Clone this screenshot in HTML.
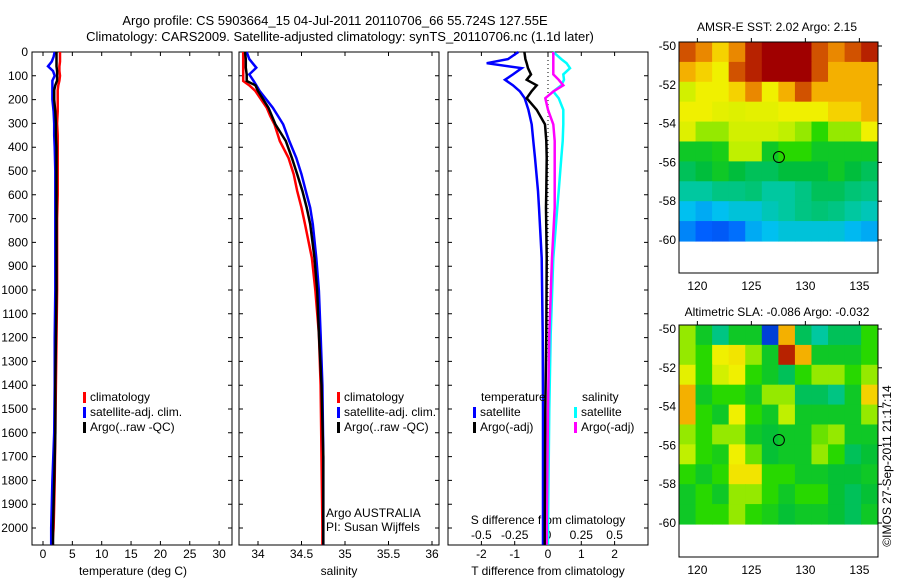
<!DOCTYPE html>
<html><head><meta charset="utf-8"><style>
html,body{margin:0;padding:0;background:#fff;}
svg{display:block;font-family:"Liberation Sans",sans-serif;}
</style></head><body>
<svg id="fig" width="900" height="580" viewBox="0 0 900 580" xmlns="http://www.w3.org/2000/svg">
<text x="335" y="25" font-size="13" text-anchor="middle">Argo profile: CS 5903664_15 04-Jul-2011 20110706_66 55.724S 127.55E</text>
<text x="340" y="41" font-size="13" text-anchor="middle">Climatology: CARS2009. Satellite-adjusted climatology: synTS_20110706.nc (1.1d later)</text>
<text x="777" y="31" font-size="12" text-anchor="middle">AMSR-E SST: 2.02 Argo: 2.15</text>
<text x="777" y="316" font-size="12" text-anchor="middle">Altimetric SLA: -0.086 Argo: -0.032</text>
<text x="0" y="0" font-size="12" text-anchor="middle" transform="translate(891,466) rotate(-90)">©IMOS 27-Sep-2011 21:17:14</text>
<g id="layer"></g>
</svg>
<script>
// ---- profile data ----
const depths = [0,20,40,60,80,100,120,140,160,200,250,300,350,400,500,600,700,800,1000,1200,1400,1600,1800,1900,2000,2070];
const climT = [2.9,2.9,2.9,2.8,2.8,2.9,2.8,2.6,2.5,2.5,2.5,2.4,2.5,2.5,2.5,2.5,2.4,2.4,2.4,2.3,2.2,2.1,2.0,1.9,1.8,1.6];
const satT  = [2.0,1.8,1.5,0.85,1.7,2.0,1.6,1.6,1.6,1.6,1.8,1.9,1.9,2.0,2.1,2.1,2.1,2.1,2.1,2.0,2.0,1.9,1.6,1.5,1.4,1.4];
const argoT = [2.3,2.3,2.3,2.3,2.4,2.4,2.4,2.1,1.9,1.9,2.1,2.2,2.2,2.3,2.3,2.3,2.3,2.3,2.3,2.2,2.1,2.1,1.9,1.8,1.7,1.7];
const depthsS = [0,30,66,94,122,140,164,234,269,304,374,445,514,584,654,723,866,1004,1185,1400,1700,2000,2070];
const climS = [33.83,33.83,33.83,33.83,33.83,33.9,33.97,34.1,34.14,34.19,34.25,34.35,34.41,34.45,34.5,34.54,34.62,34.66,34.7,34.72,34.73,34.74,34.74];
const satS  = [33.87,33.9,33.98,33.9,33.95,33.98,34.02,34.17,34.23,34.29,34.36,34.44,34.5,34.55,34.6,34.63,34.67,34.7,34.72,34.74,34.75,34.75,34.75];
const argoS = [33.85,33.86,33.86,33.87,33.87,33.97,34.0,34.12,34.16,34.2,34.32,34.39,34.45,34.51,34.56,34.6,34.65,34.68,34.7,34.73,34.75,34.75,34.75];
const depthsD = [0,30,47,68,94,117,140,166,194,243,304,374,445,584,654,866,1185,1500,2000,2070];
const dTsat  = [-0.89,-1.2,-1.84,-0.79,-1.05,-1.29,-1.05,-0.84,-0.7,-0.59,-0.49,-0.44,-0.39,-0.3,-0.27,-0.19,-0.16,-0.15,-0.15,-0.15];
const dTargo = [-0.71,-0.68,-0.64,-0.6,-0.51,-0.64,-0.34,-0.5,-0.64,-0.34,-0.09,-0.05,-0.04,-0.05,-0.06,-0.04,-0.05,-0.08,-0.1,-0.1];
const dSsat  = [0.04,0.1,0.14,0.165,0.115,0.12,0.1,0.04,0.08,0.115,0.115,0.11,0.1,0.08,0.07,0.04,0.02,0.01,0.0,0.0];
const dSargo = [0.04,0.04,0.04,0.04,0.04,0.08,0.115,0.04,-0.02,0.0,0.04,0.05,0.05,0.05,0.05,0.03,0.01,0.0,-0.01,-0.01];
const depthTicks = [0,100,200,300,400,500,600,700,800,900,1000,1100,1200,1300,1400,1500,1600,1700,1800,1900,2000];
const tempTicks = [0,5,10,15,20,25,30];
const salTicks = [34,34.5,35,35.5,36];
const tdiffTicks = [-2,-1,0,1,2];
const sdiffTicks = [-0.5,-0.25,0,0.25,0.5];
const lonTicks = [120,125,130,135];
const latTicks = [50,52,54,56,58,60];
// ---- map data (colour index 0..1), rows 50S..60S, cols 118.3E..136.7E ----
const sstGrid = [
[0.9,0.85,0.75,0.85,0.95,1,1,1,0.9,0.85,0.9,0.95],
[0.8,0.75,0.7,0.9,0.95,1,1,1,0.9,0.8,0.8,0.8],
[0.65,0.7,0.7,0.75,0.85,0.7,0.8,0.9,0.8,0.8,0.8,0.8],
[0.7,0.7,0.68,0.67,0.68,0.68,0.7,0.7,0.7,0.75,0.75,0.8],
[0.67,0.6,0.6,0.65,0.65,0.65,0.62,0.6,0.55,0.6,0.6,0.7],
[0.5,0.5,0.52,0.62,0.62,0.5,0.55,0.55,0.5,0.5,0.5,0.5],
[0.45,0.47,0.5,0.47,0.45,0.45,0.47,0.47,0.47,0.5,0.47,0.45],
[0.4,0.4,0.42,0.42,0.43,0.4,0.4,0.42,0.45,0.45,0.43,0.42],
[0.33,0.3,0.33,0.35,0.35,0.38,0.4,0.42,0.43,0.42,0.4,0.38],
[0.25,0.2,0.18,0.22,0.3,0.33,0.35,0.35,0.35,0.35,0.32,0.3]];
const slaGrid = [
[0.6,0.5,0.42,0.5,0.5,0.1,0.8,0.45,0.4,0.45,0.45,0.55],
[0.6,0.55,0.7,0.72,0.6,0.5,0.95,0.8,0.5,0.5,0.5,0.55],
[0.68,0.55,0.65,0.7,0.55,0.5,0.45,0.55,0.6,0.6,0.55,0.6],
[0.8,0.5,0.55,0.55,0.5,0.6,0.6,0.45,0.45,0.42,0.5,0.75],
[0.8,0.55,0.5,0.7,0.55,0.5,0.62,0.5,0.5,0.5,0.5,0.6],
[0.6,0.55,0.6,0.6,0.5,0.48,0.5,0.5,0.58,0.6,0.5,0.5],
[0.62,0.55,0.52,0.7,0.58,0.48,0.5,0.5,0.6,0.55,0.45,0.48],
[0.55,0.5,0.55,0.72,0.72,0.55,0.55,0.5,0.5,0.48,0.48,0.5],
[0.5,0.55,0.5,0.6,0.6,0.55,0.5,0.55,0.55,0.48,0.45,0.48],
[0.5,0.55,0.55,0.6,0.55,0.52,0.48,0.5,0.5,0.48,0.45,0.5]];
const argoLon = 127.55, argoLat = 55.724;

const NS='http://www.w3.org/2000/svg';
const layer=document.getElementById('layer');
function mk(tag,attrs,parent){const e=document.createElementNS(NS,tag);for(const k in attrs)e.setAttribute(k,attrs[k]);(parent||layer).appendChild(e);return e;}
const TOP=52, BOT=545;
const yD = d => TOP + d*0.238;
function frame(x0,x1,name){
  const r=mk('rect',{x:x0,y:TOP,width:x1-x0,height:BOT-TOP,fill:'none',stroke:'#000','stroke-width':1});
  
  
  depthTicks.forEach(d=>{const y=yD(d);
    const t=mk('path',{d:`M${x0} ${y}h4M${x1} ${y}h-4`,stroke:'#000'});
    
    });
}
function line(xs,ds,xf,color,name){
  const pts=xs.map((v,i)=>xf(v).toFixed(1)+','+Math.min(yD(ds[i]),BOT).toFixed(1)).join(' ');
  const p=mk('polyline',{points:pts,fill:'none',stroke:color,'stroke-width':2.5,'stroke-linejoin':'miter'});
  
  
}
function txt(x,y,s,size,anchor,name){const t=mk('text',{x:x,y:y,'font-size':size,'text-anchor':anchor||'start'});t.textContent=s;
  
  
  return t;}
function xticks(vals,xf,x0,x1,labY,fmt,name){vals.forEach(v=>{const x=xf(v);
  const t=mk('path',{d:`M${x} ${BOT}v-4M${x} ${TOP}v4`,stroke:'#000'});
  
  
  if(labY) txt(x,labY,fmt?fmt(v):String(v),12,'middle',name+'-label');});}
function legend(x,y,color,label,name){
  const r=mk('rect',{x:x,y:y-9,width:3,height:11,fill:color});
  
  
  txt(x+7,y,label,12,'start',name);
}
// Panel 1: temperature
const xT = v => 43 + v*5.87;
frame(32,232,'temperature-panel');
depthTicks.forEach(d=>txt(28,yD(d)+4,String(d),12,'end','depth-tick-label'));
xticks(tempTicks,xT,32,232,558,null,'temperature-x');
txt(133,575,'temperature (deg C)',12,'middle','temperature-axis-title');
line(climT,depths,xT,'#ff0000','climatology-temperature-line');
line(satT,depths,xT,'#0000ff','satellite-temperature-line');
line(argoT,depths,xT,'#000000','argo-temperature-line');
legend(83,401,'#ff0000','climatology','legend-climatology-t');
legend(83,416,'#0000ff','satellite-adj. clim.','legend-satellite-t');
legend(83,431,'#000000','Argo(..raw -QC)','legend-argo-t');
// Panel 2: salinity
const xS = v => 258 + (v-34)*87;
frame(239,439,'salinity-panel');
xticks(salTicks,xS,239,439,558,null,'salinity-x');
txt(339,575,'salinity',12,'middle','salinity-axis-title');
line(climS,depthsS,xS,'#ff0000','climatology-salinity-line');
line(satS,depthsS,xS,'#0000ff','satellite-salinity-line');
line(argoS,depthsS,xS,'#000000','argo-salinity-line');
legend(337,401,'#ff0000','climatology','legend-climatology-s');
legend(337,416,'#0000ff','satellite-adj. clim.','legend-satellite-s');
legend(337,431,'#000000','Argo(..raw -QC)','legend-argo-s');
txt(326,517,'Argo AUSTRALIA',12,'start','argo-australia-note');
txt(326,531,'PI: Susan Wijffels',12,'start','pi-note');
// Panel 3: differences
const xDT = v => 548 + v*33.3;
const xDS = v => 548 + v*133.2;
frame(448,648,'difference-panel');
const dz=mk('line',{x1:548,y1:TOP,x2:548,y2:BOT,stroke:'#000','stroke-dasharray':'1,3'});


xticks(tdiffTicks,xDT,448,648,558,null,'tdiff-x');
sdiffTicks.forEach(v=>txt(xDS(v),539,String(v),12,'middle','sdiff-tick-label'));
txt(548,524,'S difference from climatology',12,'middle','sdiff-axis-title');
txt(548,575,'T difference from climatology',12,'middle','tdiff-axis-title');
line(dSsat,depthsD,xDS,'#00ffff','satellite-sdiff-line');
line(dSargo,depthsD,xDS,'#ff00ff','argo-sdiff-line');
line(dTsat,depthsD,xDT,'#0000ff','satellite-tdiff-line');
line(dTargo,depthsD,xDT,'#000000','argo-tdiff-line');
txt(481,401,'temperature',12,'start','legend-temperature-heading');
legend(473,416,'#0000ff','satellite','legend-satellite-tdiff');
legend(473,431,'#000000','Argo(-adj)','legend-argo-tdiff');
txt(582,401,'salinity',12,'start','legend-salinity-heading');
legend(574,416,'#00ffff','satellite','legend-satellite-sdiff');
legend(574,431,'#ff00ff','Argo(-adj)','legend-argo-sdiff');
// Maps
const stops=[[0,[0,32,176]],[0.2,[0,96,255]],[0.33,[0,192,240]],[0.4,[0,200,160]],[0.47,[0,190,60]],[0.55,[40,216,0]],[0.62,[192,240,0]],[0.7,[240,240,0]],[0.78,[248,192,0]],[0.86,[232,128,0]],[0.93,[192,48,0]],[1,[160,0,0]]];
function cmap(v){for(let i=1;i<stops.length;i++){if(v<=stops[i][0]){const a=stops[i-1],b=stops[i],t=(v-a[0])/(b[0]-a[0]);
  return 'rgb('+a[1].map((c,k)=>Math.round(c+(b[1][k]-c)*t)).join(',')+')';}}return 'rgb(160,0,0)';}
const LON0=118.3, LON1=136.7;
const xL = lon => 679 + (lon-LON0)*10.8;
function map(grid,y50,ftop,fbot,name){
  const lat = l => y50 + (l-50)*19.4;
  const rows=grid.length, cols=grid[0].length;
  const dTop=ftop, dBot=lat(60.05);
  const cw=(LON1-LON0)/cols, ch=(dBot-dTop)/rows;
  grid.forEach((row,r)=>row.forEach((v,c)=>{
    const x=xL(LON0+c*cw);
    const cell=mk('rect',{x:x.toFixed(2),y:(dTop+r*ch).toFixed(2),width:(cw*10.8+0.6).toFixed(2),height:(ch+0.6).toFixed(2),fill:cmap(v)});
    
    
  }));
  const f=mk('rect',{x:679,y:ftop,width:199,height:fbot-ftop,fill:'none',stroke:'#000'});
  
  
  latTicks.forEach(l=>{const y=lat(l);
    const t=mk('path',{d:`M878 ${y}h4`,stroke:'#000'});
    
    
    txt(676,y+4,'-'+l,12,'end',name+'-lat-label');});
  lonTicks.forEach(lo=>{const x=xL(lo);
    const t=mk('path',{d:`M${x} ${ftop}v-4`,stroke:'#000'});
    
    
    txt(x,fbot+17,String(lo),12,'middle',name+'-lon-label');});
  const c=mk('circle',{cx:xL(argoLon),cy:lat(argoLat),r:5.5,fill:'none',stroke:'#000','stroke-width':1});
  
  
}
map(sstGrid,46,42,273,'sst-map');
map(slaGrid,329,325,557,'sla-map');
</script>
</body></html>
